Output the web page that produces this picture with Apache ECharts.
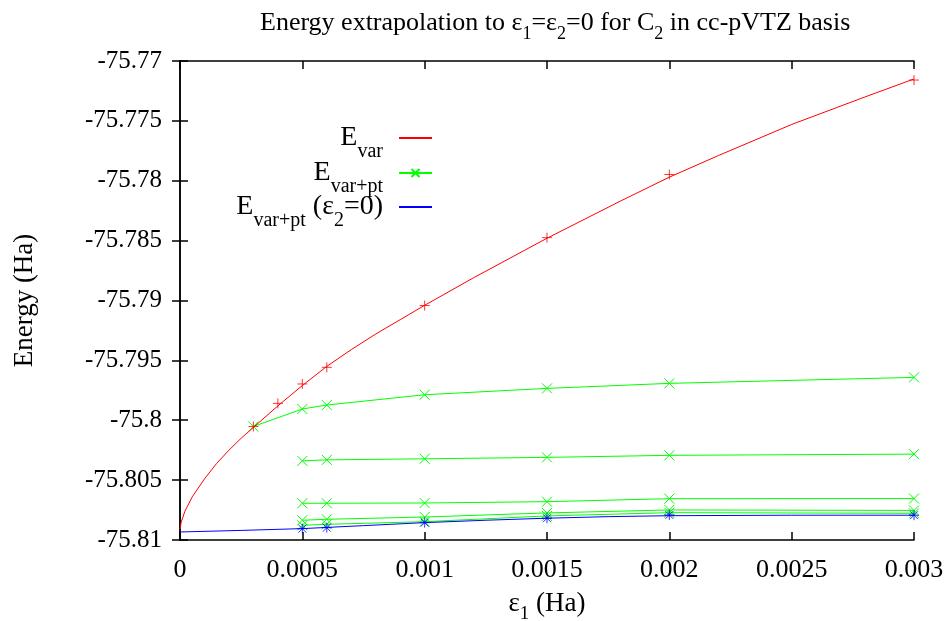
<!DOCTYPE html>
<html>
<head>
<meta charset="utf-8">
<script src="https://cdn.jsdelivr.net/npm/echarts@6/dist/echarts.min.js"></script>
<style>
  html, body { margin: 0; padding: 0; background: #fff; }
  #chart { width: 948px; height: 621px; }
</style>
</head>
<body>
<div id="chart"></div>
<script>
// axis ticks
var xTicks = [0, 0.0005, 0.001, 0.0015, 0.002, 0.0025, 0.003]
var yTicks = [-75.81, -75.805, -75.8, -75.795, -75.79, -75.785, -75.78, -75.775, -75.77]

// E_var: fitted curve and the computed points
var fitX = [0, 0.000005, 0.00002, 0.00005, 0.0001, 0.00015, 0.0002, 0.00025, 0.0003, 0.0004, 0.0005, 0.0006, 0.0007,
  0.0008, 0.0009, 0.001, 0.0012, 0.0015, 0.0018, 0.002, 0.0022, 0.0025, 0.0028, 0.003]
var eVarFit = [-75.8091, -75.8085, -75.8076, -75.8064, -75.8049, -75.8036, -75.8025, -75.8015, -75.8006, -75.7988, -75.7971, -75.7955, -75.7941,
  -75.7928, -75.7916, -75.7904, -75.7881, -75.7848, -75.7817, -75.7797, -75.7779, -75.7753, -75.7730, -75.7715]
var epsVar = [0.0003, 0.0004, 0.0005, 0.0006, 0.001, 0.0015, 0.002, 0.003]
var eVarPts = [-75.80052, -75.79859, -75.79697, -75.79558, -75.79042, -75.78475, -75.77948, -75.77159]

// E_var+pt: one line per eps2 value
var epsPtTop = [0.0003, 0.0005, 0.0006, 0.001, 0.0015, 0.002, 0.003]
var ptTop = [-75.80052, -75.79906, -75.79873, -75.79787, -75.79734, -75.79692, -75.79642]
var epsPt = [0.0005, 0.0006, 0.001, 0.0015, 0.002, 0.003]
var ptB = [-75.80339, -75.80331, -75.80322, -75.8031, -75.80293, -75.80283]
var ptC = [-75.80693, -75.80693, -75.80691, -75.8068, -75.80655, -75.80654]
var ptD = [-75.80835, -75.80827, -75.80808, -75.80774, -75.80749, -75.80753]
var ptE = [-75.80877, -75.80869, -75.80847, -75.80799, -75.80772, -75.80777]

// E_var+pt extrapolated to eps2=0
var blueX = [0, 0.00025, 0.0005, 0.00075, 0.001, 0.00125, 0.0015, 0.00175, 0.002, 0.0025, 0.003]
var blueFit = [-75.80933, -75.8092, -75.80905, -75.8088, -75.80855, -75.80835, -75.80818, -75.80805, -75.80797, -75.80793, -75.80793]
var blueStars = [-75.80905, -75.80897, -75.80855, -75.80818, -75.80791, -75.80793]

function pairs(xs, ys) {
  return xs.map(function(x, i) { return [x, ys[i]] })
}

var FONT = 'Liberation Serif'
var plusSym = 'path://M5,0L5,10M0,5L10,5'
var crossSym = 'path://M0,0L10,10M10,0L0,10'
var starSym = 'path://M5,0L5,10M0,5L10,5M1,1L9,9M9,1L1,9'

// rich styles: main text centred in a tall line, subscript pinned to the bottom of it
function richText(size, subSize, lineH, subLineH) {
  return {
    m: { fontFamily: FONT, fontSize: size, color: '#000', lineHeight: lineH, verticalAlign: 'middle' },
    s: { fontFamily: FONT, fontSize: subSize, color: '#000', lineHeight: subLineH, verticalAlign: 'bottom' }
  }
}

function greenLine(xs, ys) {
  return {
    name: 'Evar+pt',
    type: 'line',
    data: pairs(xs, ys),
    symbol: crossSym,
    symbolSize: 10,
    showSymbol: true,
    lineStyle: { color: '#00ff00', width: 1 },
    itemStyle: { color: '#00ff00', borderColor: '#00ff00', borderWidth: 1 },
    z: 2
  }
}

var chart = echarts.init(document.getElementById('chart'))

var xBase = {
  type: 'value',
  min: 0,
  max: 0.003,
  interval: 0.0005,
  splitLine: { show: false },
  axisLine: { lineStyle: { color: '#000', width: 1.5 } },
  axisTick: { inside: true, length: 8, lineStyle: { color: '#000', width: 1.5 } }
}
var yBase = {
  type: 'value',
  min: -75.81,
  max: -75.77,
  interval: 0.005,
  scale: true,
  splitLine: { show: false },
  axisLine: { lineStyle: { color: '#000', width: 1.5 } },
  axisTick: { inside: true, length: 8, lineStyle: { color: '#000', width: 1.5 } }
}

function legendBox(name, label, top, hideSymbol) {
  return {
    data: [hideSymbol ? { name: name, itemStyle: { opacity: 0 } } : name],
    orient: 'vertical',
    align: 'right',
    right: 515,
    top: top,
    padding: 0,
    itemWidth: 33,
    itemHeight: 10,
    selectedMode: false,
    formatter: function() { return label },
    textStyle: {
      fontFamily: FONT,
      fontSize: 28,
      color: '#000',
      padding: [0, 11, 0, 0],
      rich: richText(28, 20, 48, 27)
    }
  }
}

chart.setOption({
  backgroundColor: '#fff',
  animation: false,
  title: {
    text: '{m|Energy extrapolation to ε}{s|1}{m|=ε}{s|2}{m|=0 for C}{s|2}{m| in cc-pVTZ basis}',
    left: 255,
    top: -2,
    textStyle: {
      fontFamily: FONT,
      fontSize: 26,
      fontWeight: 'normal',
      color: '#000',
      rich: richText(26, 18, 40, 25)
    }
  },
  legend: [
    legendBox('Evar', '{m|E}{s|var}', 124, true),
    legendBox('Evar+pt', '{m|E}{s|var+pt}', 159, false),
    legendBox('Evar+pt (e2=0)', '{m|E}{s|var+pt}{m| (ε}{s|2}{m|=0)}', 193, true)
  ],
  grid: { left: 180, right: 34, top: 61, bottom: 81, containLabel: false, outerBoundsMode: 'none' },
  xAxis: [
    Object.assign({}, xBase, {
      position: 'bottom',
      name: '{m|ε}{s|1}{m| (Ha)}',
      nameLocation: 'middle',
      nameGap: 44,
      nameTextStyle: {
        fontFamily: FONT,
        fontSize: 27,
        color: '#000',
        rich: richText(27, 19, 40, 22)
      },
      axisLabel: {
        fontFamily: FONT,
        fontSize: 26,
        color: '#000',
        margin: 17,
        formatter: function(v) { return String(+v.toFixed(4)) }
      }
    }),
    Object.assign({}, xBase, { position: 'top', axisLabel: { show: false } })
  ],
  yAxis: [
    Object.assign({}, yBase, {
      position: 'left',
      name: 'Energy (Ha)',
      nameLocation: 'middle',
      nameGap: 142,
      nameTextStyle: { fontFamily: FONT, fontSize: 27, color: '#000' },
      axisLabel: {
        fontFamily: FONT,
        fontSize: 25,
        color: '#000',
        margin: 18,
        formatter: function(v) { return String(+v.toFixed(3)) }
      }
    }),
    Object.assign({}, yBase, { position: 'right', axisLabel: { show: false } })
  ],
  series: [
    {
      name: 'Evar',
      type: 'line',
      data: pairs(fitX, eVarFit),
      symbol: 'circle',
      showSymbol: false,
      lineStyle: { color: '#ff0000', width: 1 },
      itemStyle: { color: '#ff0000' },
      z: 3
    },
    {
      name: 'Evar points',
      type: 'scatter',
      data: pairs(epsVar, eVarPts),
      symbol: plusSym,
      symbolSize: 10,
      itemStyle: { color: '#ff0000', borderColor: '#ff0000', borderWidth: 1 },
      z: 4
    },
    greenLine(epsPtTop, ptTop),
    greenLine(epsPt, ptB),
    greenLine(epsPt, ptC),
    greenLine(epsPt, ptD),
    greenLine(epsPt, ptE),
    {
      name: 'Evar+pt (e2=0)',
      type: 'line',
      data: pairs(blueX, blueFit),
      symbol: 'circle',
      showSymbol: false,
      lineStyle: { color: '#0000ff', width: 1 },
      itemStyle: { color: '#0000ff' },
      z: 3
    },
    {
      name: 'Evar+pt (e2=0) points',
      type: 'scatter',
      data: pairs(epsPt, blueStars),
      symbol: starSym,
      symbolSize: 10,
      itemStyle: { color: '#0000ff', borderColor: '#0000ff', borderWidth: 1 },
      z: 5
    }
  ]
})
</script>
</body>
</html>
